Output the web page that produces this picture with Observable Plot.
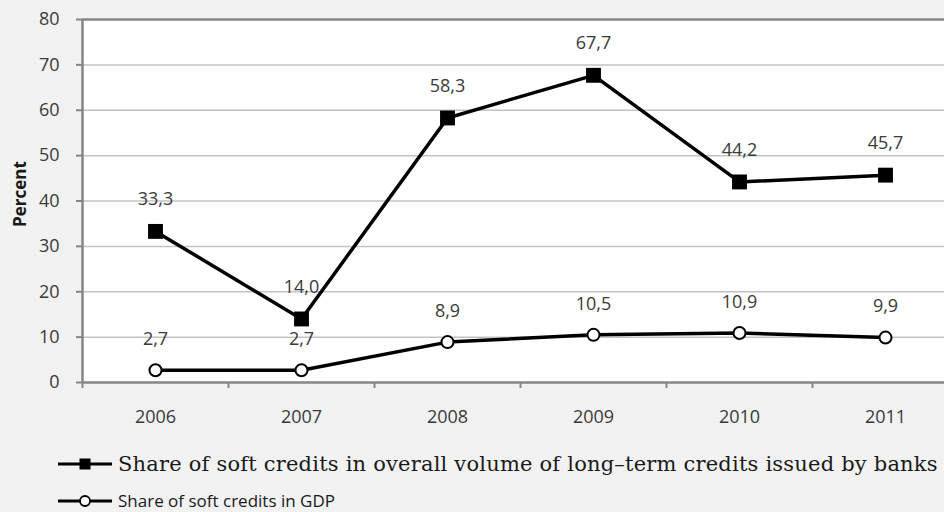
<!DOCTYPE html>
<html>
<head>
<meta charset="utf-8">
<script src="https://cdn.jsdelivr.net/npm/d3@7"></script>
<script src="https://cdn.jsdelivr.net/npm/@observablehq/plot@0.6"></script>
<style>
  html, body { margin: 0; padding: 0; background: #f2f2f2; overflow: hidden; }
  #chart svg { display: block; }
  .legend { position: relative; height: 80px; }
  .legend .item { position: absolute; left: 58px; height: 24px; display: flex; align-items: center; white-space: nowrap; }
  .legend .item svg { display: block; margin-right: 6px; }
  .legend .serif { font-family: "DejaVu Serif", serif; font-size: 21px; letter-spacing: 0.2px; color: #1a1a1a; line-height: 24px; }
  .legend .sans { font-family: "Open Sans", sans-serif; font-size: 17px; color: #1a1a1a; line-height: 24px; }
</style>
</head>
<body>
<div id="chart"></div>
<div class="legend" id="legend"></div>
<script>
// Soft credits, 2006–2011 (percent)
const years = [2006, 2007, 2008, 2009, 2010, 2011];
const bankShare = [33.3, 14.0, 58.3, 67.7, 44.2, 45.7];
const gdpShare = [2.7, 2.7, 8.9, 10.5, 10.9, 9.9];
const yTicks = [0, 10, 20, 30, 40, 50, 60, 70, 80];
const seriesNames = [
  "Share of soft credits in overall volume of long\u2013term credits issued by banks",
  "Share of soft credits in GDP"
];
const yLabel = "Percent";

const bankRows = years.map((year, i) => ({year, value: bankShare[i]}));
const gdpRows = years.map((year, i) => ({year, value: gdpShare[i]}));
// category boundaries, where the x-axis tick marks sit
const bounds = years.map(y => y - 0.5).concat([years[years.length - 1] + 0.5]);

const fmt = v => d3.format(".1f")(v).replace(".", ",");
const axisGray = "#868686";
const textGray = "#3a3a3a";

const chart = Plot.plot({
  width: 944,
  height: 432,
  marginLeft: 82,
  marginRight: 0,
  marginTop: 19,
  marginBottom: 50,
  style: {background: "#f2f2f2", fontFamily: "Open Sans, sans-serif", fontSize: "18px", overflow: "hidden"},
  x: {type: "linear", domain: [years[0] - 0.5, years[years.length - 1] + 0.5], range: [82, 958]},
  y: {domain: [0, 80], range: [382, 19]},
  marks: [
    Plot.frame({fill: "white", stroke: null}),
    Plot.ruleY(yTicks.slice(1, -1), {stroke: "#c3c3c3", strokeWidth: 1.5}),
    Plot.ruleY([yTicks[yTicks.length - 1]], {stroke: axisGray, strokeWidth: 2.5}),
    Plot.ruleY([0], {stroke: axisGray, strokeWidth: 2.5}),
    Plot.ruleX([bounds[0]], {stroke: axisGray, strokeWidth: 2.5}),
    // y axis: ticks and labels
    Plot.axisY({ticks: yTicks, tickSize: 6, text: null, stroke: axisGray, strokeWidth: 2, label: null}),
    Plot.axisY({ticks: yTicks, tickSize: 0, tickPadding: 23, fill: textGray, label: null,
      tickFormat: d => String(d), style: {letterSpacing: "1px"}}),
    // x axis: boundary ticks and centred year labels
    Plot.axisX({ticks: bounds, tickSize: 6, tickFormat: () => "", stroke: axisGray, strokeWidth: 2, label: null}),
    Plot.axisX({ticks: years, tickSize: 0, tickPadding: 28, tickFormat: d => String(d), fill: textGray,
      label: null, style: {letterSpacing: "1px"}}),
    Plot.text([yLabel], {frameAnchor: "left", dx: -62, dy: -7, rotate: -90, text: d => d, textAnchor: "middle",
      fontWeight: "bold", fontSize: 17, fill: "#1a1a1a"}),
    // value labels
    Plot.text(bankRows, {x: "year", y: "value", text: d => fmt(d.value), dy: -32, fill: textGray,
      fontSize: 18, style: {letterSpacing: "1.5px"}}),
    Plot.text(gdpRows, {x: "year", y: "value", text: d => fmt(d.value), dy: -31, fill: textGray,
      fontSize: 18, style: {letterSpacing: "1.5px"}}),
    // series
    Plot.line(gdpRows, {x: "year", y: "value", stroke: "black", strokeWidth: 3.5}),
    Plot.line(bankRows, {x: "year", y: "value", stroke: "black", strokeWidth: 3.5}),
    Plot.dot(bankRows, {x: "year", y: "value", symbol: "square", r: 8.4, fill: "black", stroke: null}),
    Plot.dot(gdpRows, {x: "year", y: "value", r: 6, fill: "white", stroke: "black", strokeWidth: 2})
  ]
});
document.getElementById("chart").appendChild(chart);

// legend below the plot
const legend = document.getElementById("legend");
const swatch = (kind) => {
  const s = d3.create("svg").attr("width", 54).attr("height", 16);
  s.append("line").attr("x1", 0).attr("x2", 54).attr("y1", 8).attr("y2", 8)
    .attr("stroke", "black").attr("stroke-width", 3);
  if (kind === "square") {
    s.append("rect").attr("x", 21.5).attr("y", 2.5).attr("width", 11).attr("height", 11).attr("fill", "black");
  } else {
    s.append("circle").attr("cx", 27).attr("cy", 8).attr("r", 5).attr("fill", "white")
      .attr("stroke", "black").attr("stroke-width", 1.8);
  }
  return s.node();
};
[["square", "serif", 32], ["circle", "sans", 69]].forEach(([kind, cls, center], i) => {
  const item = document.createElement("div");
  item.className = "item";
  item.style.top = (center - 12) + "px";
  item.appendChild(swatch(kind));
  const span = document.createElement("span");
  span.className = cls;
  span.textContent = seriesNames[i];
  item.appendChild(span);
  legend.appendChild(item);
});
</script>
</body>
</html>
